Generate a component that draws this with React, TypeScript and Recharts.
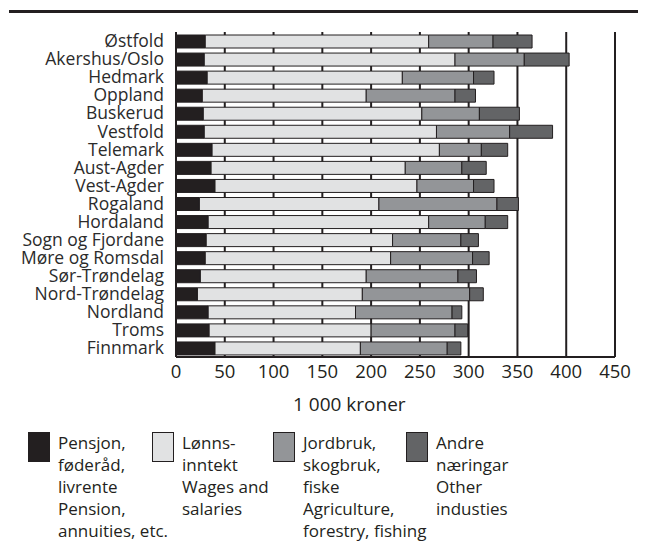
import { BarChart, Bar, XAxis, YAxis, CartesianGrid } from 'recharts'

// Fylke (county) names, top to bottom
const counties = [
  'Østfold',
  'Akershus/Oslo',
  'Hedmark',
  'Oppland',
  'Buskerud',
  'Vestfold',
  'Telemark',
  'Aust-Agder',
  'Vest-Agder',
  'Rogaland',
  'Hordaland',
  'Sogn og Fjordane',
  'Møre og Romsdal',
  'Sør-Trøndelag',
  'Nord-Trøndelag',
  'Nordland',
  'Troms',
  'Finnmark',
]

// Income by source, 1 000 kroner
const pension = [30, 29, 32, 27, 28, 29, 37, 36, 40, 24, 33, 31, 30, 25, 22, 33, 34, 40]
const wages = [229, 257, 200, 168, 224, 238, 233, 199, 207, 184, 226, 191, 190, 170, 169, 151, 166, 149]
const agriculture = [66, 71, 73, 91, 59, 75, 43, 58, 58, 121, 58, 70, 84, 94, 110, 99, 86, 89]
const other = [40, 46, 21, 21, 41, 44, 27, 25, 21, 22, 23, 18, 17, 19, 14, 10, 13, 14]

const xTicks = [0, 50, 100, 150, 200, 250, 300, 350, 400, 450]

const ink = '#231f20'
const font = "'Open Sans', sans-serif"

const series = [
  { key: 'pension', color: '#231f20', lines: ['Pensjon,', 'føderåd,', 'livrente', 'Pension,', 'annuities, etc.'] },
  { key: 'wages', color: '#e1e2e3', lines: ['Lønns-', 'inntekt', 'Wages and', 'salaries'] },
  { key: 'agriculture', color: '#939598', lines: ['Jordbruk,', 'skogbruk,', 'fiske', 'Agriculture,', 'forestry, fishing'] },
  { key: 'other', color: '#636466', lines: ['Andre', 'næringar', 'Other', 'industies'] },
]

const legendX = [28, 152, 273, 406]

const data = counties.map((name, i) => ({
  name,
  pension: pension[i],
  wages: wages[i],
  agriculture: agriculture[i],
  other: other[i],
}))

export default function App() {
  return (
    <div style={{ position: 'absolute', left: 0, top: 0, width: 648, height: 550, background: '#fff', fontFamily: font, color: ink }}>
      {/* rule across the top */}
      <div style={{ position: 'absolute', left: 9, top: 10, width: 629, height: 3, background: ink }} />

      <BarChart
        width={648}
        height={410}
        data={data}
        layout="vertical"
        barSize={13}
        margin={{ top: 32, right: 33, bottom: 0, left: 0 }}
      >
        <CartesianGrid horizontal={false} stroke={ink} strokeWidth={2} strokeOpacity={1} />
        <XAxis
          type="number"
          domain={[0, 450]}
          ticks={xTicks}
          interval={0}
          height={53}
          tickLine={false}
          axisLine={{ stroke: ink, strokeWidth: 2 }}
          tick={{ fill: ink, fontSize: 18.5, fontFamily: font }}
        />
        <YAxis
          type="category"
          dataKey="name"
          width={176}
          interval={0}
          tickLine={false}
          axisLine={{ stroke: ink, strokeWidth: 2 }}
          tick={{ fill: '#2b2b2b', fontSize: 17.5, fontFamily: font, dx: -4 }}
        />
        {series.map((s) => (
          <Bar key={s.key} dataKey={s.key} stackId="a" fill={s.color} stroke={ink} strokeWidth={1} isAnimationActive={false} />
        ))}
      </BarChart>

      <div style={{ position: 'absolute', left: 293, top: 391, fontSize: 19 }}>1 000 kroner</div>

      {series.map((s, i) => (
        <div key={s.key} style={{ position: 'absolute', left: legendX[i], top: 432, display: 'flex' }}>
          <div style={{ width: 22, height: 30, background: s.color, border: `1px solid ${ink}`, boxSizing: 'border-box', marginRight: 8 }} />
          <div style={{ fontSize: 17, lineHeight: '22px', marginTop: 0 }}>
            {s.lines.map((l) => (
              <div key={l}>{l}</div>
            ))}
          </div>
        </div>
      ))}
    </div>
  )
}
